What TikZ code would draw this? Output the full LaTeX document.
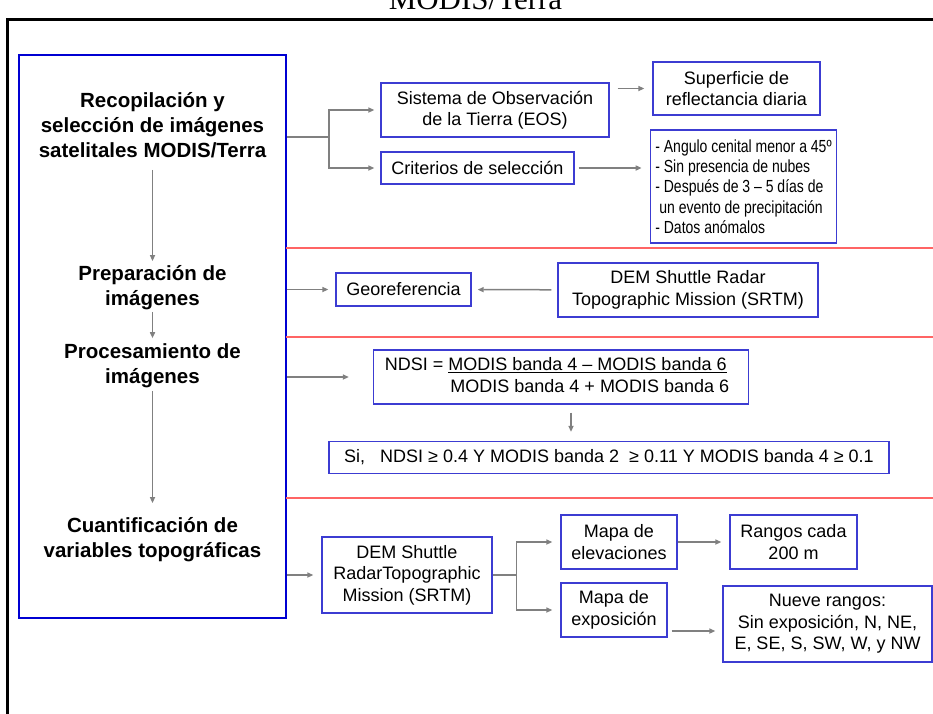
\documentclass[tikz,border=0pt]{standalone}
\usepackage{fontspec}
\setmainfont{Liberation Sans}
\newfontfamily\titlefont{Liberation Serif}
\newfontfamily\narrowfont{Liberation Sans}[FakeStretch=0.8]
\usetikzlibrary{positioning, calc, arrows.meta}

\definecolor{boxblue}{RGB}{60,60,210}
\definecolor{stageblue}{RGB}{0,0,210}
\definecolor{divred}{RGB}{255,100,100}
\definecolor{flowgray}{RGB}{128,128,128}

\begin{document}
\begin{tikzpicture}[x=1pt, y=-1pt,
	box/.style={draw=boxblue, line width=1.3pt, inner sep=0pt, align=center, font=\fontsize{18}{21.5}\selectfont},
	stage/.style={inner sep=0pt, align=center, font=\fontsize{20.5}{25}\selectfont\bfseries},
	flow/.style={draw=flowgray, line width=1.5pt, -{Triangle[length=6pt, width=5pt]}},
	link/.style={draw=flowgray, line width=1.5pt},
	divider/.style={draw=divred, line width=1.3pt}]
	\useasboundingbox (0, 0) rectangle (933, 713);
	\clip (0, 0) rectangle (933, 713);
	\node[anchor=base, font=\titlefont\fontsize{31}{31}\selectfont] (title) at (475.5, 9) {MODIS/Terra};
	\draw[line width=3pt] (7.5, 720) -- (7.5, 19) -- (940, 19);

	% etapas
	\node[draw=stageblue, line width=2pt, minimum width=267, minimum height=563] (stages) at (152.5, 336.5) {};
	\node[stage] (collect) at (152.5, 125) {Recopilación y\\selección de imágenes\\satelitales MODIS/Terra};
	\node[stage] (prepare) at (152.5, 287.5) {Preparación de\\imágenes};
	\node[stage] (process) at (152.5, 365.5) {Procesamiento de\\imágenes};
	\node[stage] (quantify) at (152.5, 539.5) {Cuantificación de\\variables topográficas};
	\draw[flow, shorten <=12pt, shorten >=4pt] (collect) -- (prepare);
	\draw[flow, shorten <=2pt, shorten >=5pt] (prepare) -- (process);
	\draw[flow, shorten <=3pt, shorten >=14pt] (process) -- (quantify);
	\foreach \y in {248, 337, 498}
		\draw[divider] (286, \y) -- (933, \y);

	% recopilacion
	\node[box, minimum width=228, minimum height=54] (eos) at (495, 110) {Sistema de Observación\\de la Tierra (EOS)};
	\node[box, minimum width=193, minimum height=32] (crit) at (477.5, 168) {Criterios de selección};
	\node[box, minimum width=167, minimum height=53] (surf) at (736.5, 88.5) {Superficie de\\reflectancia diaria};
	\node[box, minimum width=181, minimum height=113, inner xsep=5pt, align=left, font=\narrowfont\fontsize{17.5}{20.3}\selectfont] (rules) at (743.5, 186.5) {- Angulo cenital menor a 45º\\- Sin presencia de nubes\\- Después de 3 – 5 días de\\\hspace*{4pt}un evento de precipitación\\- Datos anómalos};
	\coordinate (split) at (329, 137);
	\draw[link] (stages.east |- split) -- (split);
	\draw[flow, shorten >=6pt] (split) |- (eos);
	\draw[flow, shorten >=6pt] (split) |- (crit);
	\draw[flow, shorten <=8pt, shorten >=8pt] (eos.east |- surf) -- (surf);
	\draw[flow, shorten <=4pt, shorten >=8pt] (crit) -- (crit -| rules.west);

	% preparacion
	\node[box, minimum width=135, minimum height=33] (geo) at (403.5, 289.5) {Georeferencia};
	\node[box, minimum width=260, minimum height=54] (srtm) at (688, 290) {DEM Shuttle Radar\\Topographic Mission (SRTM)};
	\draw[flow, shorten >=7pt] (stages.east |- geo) -- (geo);
	\draw[flow, shorten <=6pt, shorten >=6pt] (srtm) -- (geo);

	% procesamiento
	\node[box, minimum width=375, minimum height=54] (ndsi) at (561, 377) {\begin{tabular}{@{}l@{}l@{}}NDSI =\kern5pt & \underline{MODIS banda 4 – MODIS banda 6}\\ & \kern2pt MODIS banda 4 + MODIS banda 6\end{tabular}\kern8pt};
	\node[box, minimum width=560, minimum height=32] (cond) at (609, 457.5) {Si,\hspace{15pt}NDSI ≥ 0.4 Y MODIS banda 2\hspace{10pt}≥ 0.11 Y MODIS banda 4 ≥ 0.1};
	\draw[flow, shorten >=24pt] (stages.east |- ndsi) -- (ndsi);
	\draw[flow, shorten <=8pt, shorten >=9pt] ([xshift=10pt]ndsi.south) -- ([xshift=10pt]ndsi.south |- cond.north);

	% cuantificacion
	\node[box, minimum width=170, minimum height=76] (dem) at (407, 575) {DEM Shuttle\\RadarTopographic\\Mission (SRTM)};
	\node[box, minimum width=116, minimum height=54] (elev) at (619, 542) {Mapa de\\elevaciones};
	\node[box, minimum width=127, minimum height=54] (bands) at (793.5, 542) {Rangos cada\\200 m};
	\node[box, minimum width=106, minimum height=54] (aspect) at (614, 610) {Mapa de\\exposición};
	\node[box, minimum width=209, minimum height=76] (classes) at (827.5, 624) {Nueve rangos:\\Sin exposición, N, NE,\\E, SE, S, SW, W, y NW};
	\coordinate (fork) at (516.5, 575);
	\draw[flow, shorten >=8pt] (stages.east |- dem) -- (dem);
	\draw[link] (dem) -- (fork);
	\draw[flow, shorten >=8pt] (fork) |- (elev);
	\draw[flow, shorten >=8pt] (fork) |- (aspect);
	\draw[flow, shorten >=8pt] (elev) -- (bands);
	\draw[flow, shorten <=4pt, shorten >=7pt] ([yshift=-21pt]aspect.east) -- ([yshift=-21pt]aspect.east -| classes.west);
\end{tikzpicture}
\end{document}
